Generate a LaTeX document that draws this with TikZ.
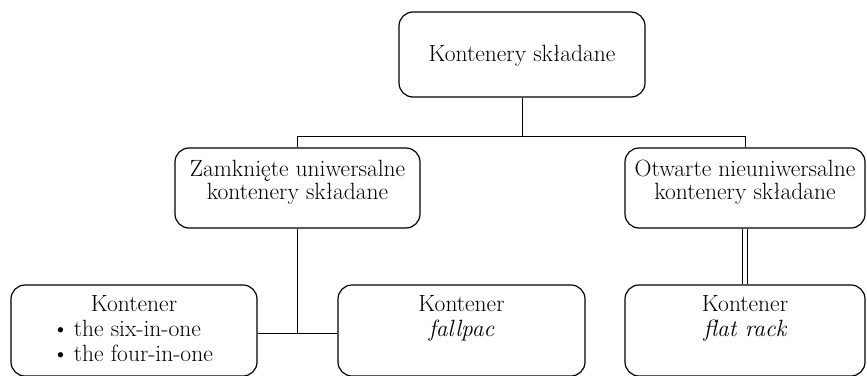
\documentclass[tikz,border=0pt]{standalone}
\begin{document}
\begin{tikzpicture}[x=1pt,y=-1pt,
  box/.style={draw,line width=1.2pt,rounded corners=14pt,inner sep=0pt,minimum width=#1},
  txt/.style={anchor=base,inner sep=0pt,font=\fontsize{23.5}{26}\selectfont},
  conn/.style={line width=1pt}]
\useasboundingbox (0,0) rectangle (867,375);
% boxes
\node[box=246pt,minimum height=85pt] (top) at (522,54.5) {};
\node[box=245pt,minimum height=80pt] (lm) at (297.5,188) {};
\node[box=240pt,minimum height=80pt] (rm) at (745,188) {};
\node[box=246pt,minimum height=91pt] (bl) at (134,330.5) {};
\node[box=247pt,minimum height=91pt] (bm) at (461.5,330.5) {};
\node[box=240pt,minimum height=91pt] (br) at (745,330.5) {};
% texts
\node[txt] (t1) at (522,61) {Kontenery składane};
\node[txt] (l1) at (297.5,176.7) {Zamknięte uniwersalne};
\node[txt] (l2) at (297.5,199.5) {kontenery składane};
\node[txt] (r1) at (745,176.7) {Otwarte nieuniwersalne};
\node[txt] (r2) at (745,199.5) {kontenery składane};
\node[txt] (b1) at (134,311.7) {Kontener};
\node[txt,anchor=base west] (b2) at (52,336.7) {\textbullet\hspace{0.2em}the six-in-one};
\node[txt,anchor=base west] (b3) at (52,361.7) {\textbullet\hspace{0.2em}the four-in-one};
\node[txt] (m1) at (461.5,311.7) {Kontener};
\node[txt] (m2) at (461.5,336.7) {\itshape fallpac};
\node[txt] (k1) at (745,311.7) {Kontener};
\node[txt] (k2) at (745,336.7) {\itshape flat rack};
% connectors
\coordinate (j) at (522,136);
\draw[conn] (top.south) -- (j);
\draw[conn] (lm.north) -- (lm.north |- j) -- (rm.north |- j) -- (rm.north);
\coordinate (k) at (297.5,333);
\draw[conn] (lm.south) -- (k);
\draw[conn] (bl.east |- k) -- (bm.west |- k);
\draw[conn,double,double distance=3.6pt,line width=0.9pt] (rm.south) -- (br.north);
\end{tikzpicture}
\end{document}
